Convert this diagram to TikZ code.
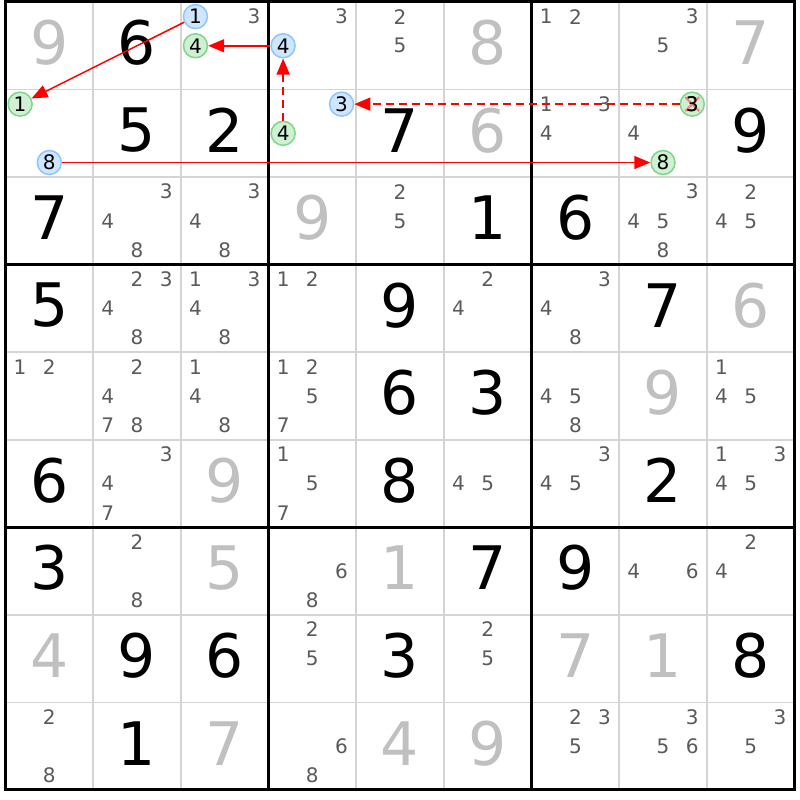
\documentclass[tikz,border=0pt]{standalone}
\usepackage{fontspec}
\setmainfont{DejaVu Sans}
\usetikzlibrary{arrows.meta}
\definecolor{candgray}{HTML}{5A5A5A}
\definecolor{solvedgray}{HTML}{C0C0C0}
\definecolor{thingrid}{HTML}{D4D4D4}
\definecolor{bluefill}{HTML}{D0E6FF}
\definecolor{blueline}{HTML}{8EC5FF}
\definecolor{greenfill}{HTML}{CFF0D2}
\definecolor{greenline}{HTML}{7FD68A}
\definecolor{xred}{HTML}{FF8080}
\tikzset{
  given/.style={inner sep=0pt, text=black, font=\fontsize{60}{60}\selectfont},
  solved/.style={inner sep=0pt, text=solvedgray, font=\fontsize{60}{60}\selectfont},
  cand/.style={inner sep=0pt, text=candgray, font=\fontsize{20}{20}\selectfont},
  bluecand/.style={circle, minimum size=24pt, inner sep=0pt, draw=blueline, fill=bluefill, line width=1.5pt, text=black, font=\fontsize{20}{20}\selectfont},
  greencand/.style={circle, minimum size=24pt, inner sep=0pt, draw=greenline, fill=greenfill, line width=1.5pt, text=black, font=\fontsize{20}{20}\selectfont},
  link/.style={red, line width=1.5pt, -{Triangle[length=16pt,width=13pt]}},
  dlink/.style={link, dash pattern=on 8pt off 5pt},
  thinline/.style={thingrid, line width=1.5pt},
  thickline/.style={black, line width=3pt},
}
\begin{document}
\begin{tikzpicture}[x=1pt,y=-1pt]
\useasboundingbox (0,0) rectangle (800,800);
\fill[white] (0,0) rectangle (800,800);
\def\gx{5.5}\def\gy{2}\def\cw{87.67}\def\ch{87.55}
% thin grid
\foreach \i in {1,2,4,5,7,8}{
  \draw[thinline] ({\gx+\i*\cw},\gy) -- ({\gx+\i*\cw},{\gy+9*\ch});
  \draw[thinline] (\gx,{\gy+\i*\ch}) -- ({\gx+9*\cw},{\gy+\i*\ch});
}
% thick grid
\foreach \i in {0,3,6,9}{
  \draw[thickline] ({\gx+\i*\cw},{\gy-1.5}) -- ({\gx+\i*\cw},{\gy+9*\ch+1.5});
  \draw[thickline] ({\gx-1.5},{\gy+\i*\ch}) -- ({\gx+9*\cw+1.5},{\gy+\i*\ch});
}
% givens
\foreach \r/\c/\d in {1/2/6,2/2/5,2/3/2,2/5/7,2/9/9,3/1/7,3/6/1,3/7/6,4/1/5,4/5/9,4/8/7,5/5/6,5/6/3,6/1/6,6/5/8,6/8/2,7/1/3,7/6/7,7/7/9,8/2/9,8/3/6,8/5/3,8/9/8,9/2/1}
  \node[given] (g\r\c) at ({\gx+(\c-0.5)*\cw},{\gy+(\r-0.5)*\ch-3}) {\d};
% solved
\foreach \r/\c/\d in {1/1/9,1/6/8,1/9/7,2/6/6,3/4/9,4/9/6,5/8/9,6/3/9,7/3/5,7/5/1,8/1/4,8/7/7,8/8/1,9/3/7,9/5/4,9/6/9}
  \node[solved] (s\r\c) at ({\gx+(\c-0.5)*\cw},{\gy+(\r-0.5)*\ch-3}) {\d};
% plain candidates
\foreach \r/\c/\d in {
  1/3/3, 1/4/3, 1/5/2,1/5/5, 1/7/1,1/7/2, 1/8/3,1/8/5,
  2/7/1,2/7/3,2/7/4, 2/8/4,
  3/2/3,3/2/4,3/2/8, 3/3/3,3/3/4,3/3/8, 3/5/2,3/5/5, 3/8/3,3/8/4,3/8/5,3/8/8, 3/9/2,3/9/4,3/9/5,
  4/2/2,4/2/3,4/2/4,4/2/8, 4/3/1,4/3/3,4/3/4,4/3/8, 4/4/1,4/4/2, 4/6/2,4/6/4, 4/7/3,4/7/4,4/7/8,
  5/1/1,5/1/2, 5/2/2,5/2/4,5/2/7,5/2/8, 5/3/1,5/3/4,5/3/8, 5/4/1,5/4/2,5/4/5,5/4/7, 5/7/4,5/7/5,5/7/8, 5/9/1,5/9/4,5/9/5,
  6/2/3,6/2/4,6/2/7, 6/4/1,6/4/5,6/4/7, 6/6/4,6/6/5, 6/7/3,6/7/4,6/7/5, 6/9/1,6/9/3,6/9/4,6/9/5,
  7/2/2,7/2/8, 7/4/6,7/4/8, 7/8/4,7/8/6, 7/9/2,7/9/4,
  8/4/2,8/4/5, 8/6/2,8/6/5,
  9/1/2,9/1/8, 9/4/6,9/4/8, 9/7/2,9/7/3,9/7/5, 9/8/3,9/8/5,9/8/6, 9/9/3,9/9/5}{
  \pgfmathtruncatemacro\sx{mod(\d-1,3)}
  \pgfmathtruncatemacro\sy{int((\d-1)/3)}
  \node[cand] (c\r\c\d) at ({\gx+(\c-1)*\cw+(\sx+0.5)*\cw/3},{\gy+(\r-1)*\ch+(\sy+0.5)*\ch/3}) {\d};
}
% highlighted candidates
\foreach \r/\c/\d/\st in {1/3/1/bluecand, 1/3/4/greencand, 1/4/4/bluecand, 2/1/1/greencand, 2/1/8/bluecand, 2/4/3/bluecand, 2/4/4/greencand, 2/8/3/greencand, 2/8/8/greencand}{
  \pgfmathtruncatemacro\sx{mod(\d-1,3)}
  \pgfmathtruncatemacro\sy{int((\d-1)/3)}
  \node[\st] (c\r\c\d) at ({\gx+(\c-1)*\cw+(\sx+0.5)*\cw/3},{\gy+(\r-1)*\ch+(\sy+0.5)*\ch/3}) {\d};
}
% elimination mark
\draw[xred, line width=2pt] ([shift={(-7,-7)}]c283.center) -- ([shift={(7,7)}]c283.center);
\draw[xred, line width=2pt] ([shift={(-7,7)}]c283.center) -- ([shift={(7,-7)}]c283.center);
\node[text=black, inner sep=0pt, font=\fontsize{20}{20}\selectfont] (c283t) at (c283.center) {3};
% links
\draw[link] (c131) -- (c211);
\draw[link] (c144) -- (c134);
\draw[dlink] (c244) -- (c144);
\draw[dlink] (c283) -- (c243);
\draw[link] (c218) -- (c288);
\end{tikzpicture}
\end{document}
